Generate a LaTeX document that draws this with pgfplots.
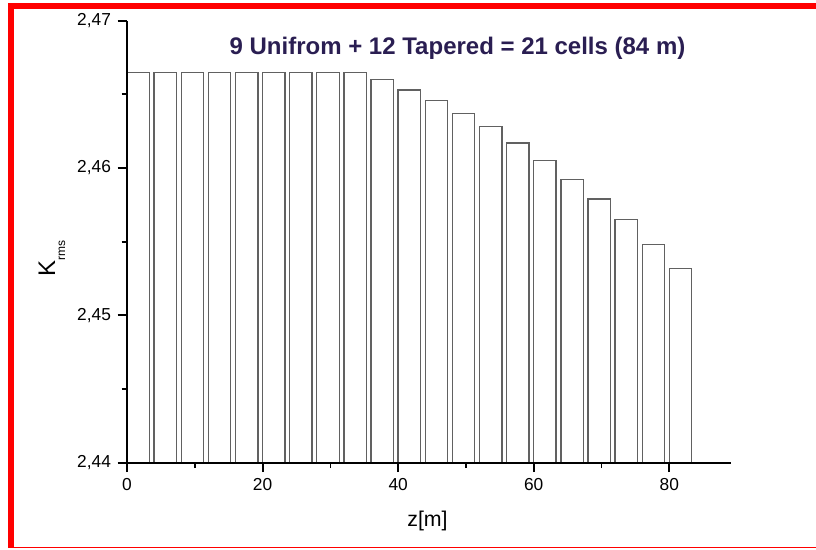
\documentclass[border=0pt]{standalone}
\usepackage{fontspec}
\setmainfont{Liberation Sans}
\usepackage{pgfplots}
\pgfplotsset{compat=1.18}
\usepackage{pgfplotstable}
\definecolor{titlecol}{RGB}{42,30,82}
\pgfplotstableread{
x y
1.65 2.4665
5.65 2.4665
9.65 2.4665
13.65 2.4665
17.65 2.4665
21.65 2.4665
25.65 2.4665
29.65 2.4665
33.65 2.4665
37.65 2.4660
41.65 2.4653
45.65 2.4646
49.65 2.4637
53.65 2.4628
57.65 2.4617
61.65 2.4605
65.65 2.4592
69.65 2.4579
73.65 2.4565
77.65 2.4548
81.65 2.4532
}\cells
\begin{document}
\begin{tikzpicture}
\path (0pt,0pt) rectangle (612pt,411.75pt);
\fill[red] (6.225pt,0.525pt) rectangle (10.5pt,409.275pt);
\fill[red] (6.225pt,404.775pt) rectangle (612pt,409.275pt);
\fill[red] (6.225pt,0.525pt) rectangle (612pt,1.875pt);
\begin{axis}[
  at={(95.25pt,64.725pt)}, anchor=south west,
  scale only axis, width=453pt, height=331.5pt,
  xmin=0, xmax=89.1, ymin=2.44, ymax=2.47,
  y coord trafo/.code={\pgfmathparse{#1-2.44}},
  y coord inv trafo/.code={\pgfmathparse{#1+2.44}},
  axis on top,
  axis x line*=bottom, axis y line*=left, axis line style={-, line width=1.3pt},
  xtick pos=bottom, ytick pos=left,
  xtick align=outside, ytick align=outside,
  major tick length=7pt, minor tick length=4pt,
  major tick style={black, line width=1.4pt},
  minor tick style={black, line width=1.3pt},
  xtick={0,20,40,60,80}, minor xtick={10,30,50,70},
  ytick={2.44,2.45,2.46,2.47}, minor ytick={2.445,2.455,2.465},
  scaled y ticks=false,
  yticklabels={{2,44},{2,45},{2,46},{2,47}},
  /pgf/number format/assume math mode=true,
  ticklabel style={font=\fontsize{13}{13}\selectfont},
  yticklabel style={xshift=-1.5pt},
  xticklabel style={yshift=-1pt},
  every axis x label/.style={at={(axis description cs:0.4975,-0.1448)}, anchor=base},
  every axis y label/.style={at={(axis description cs:-0.1192,0.462)}, anchor=base, rotate=90},
  xlabel={\fontsize{16}{16}\selectfont z[m]},
  ylabel={\fontsize{18}{18}\selectfont K\raisebox{-7.5pt}{\fontsize{9}{9}\selectfont rms}},
  clip=false,
]
\addplot[ybar, bar width=3.3, draw=black!62, line width=1pt, fill=white] table[x=x,y=y] {\cells};
\pgfplotsinvokeforeach{0,20,40,60,80}{\draw[black, line width=1.4pt] (axis cs:#1,2.44) -- ++(0pt,-7pt);}
\pgfplotsinvokeforeach{2.44,2.45,2.46,2.47}{\draw[black, line width=1.4pt] (axis cs:0,#1) -- ++(-7pt,0pt);}
\end{axis}
\node[anchor=base, text=titlecol, font=\bfseries\fontsize{18}{18}\selectfont] at (343.125pt,370.5pt) {9 Unifrom + 12 Tapered = 21 cells (84 m)};
\end{tikzpicture}
\end{document}
